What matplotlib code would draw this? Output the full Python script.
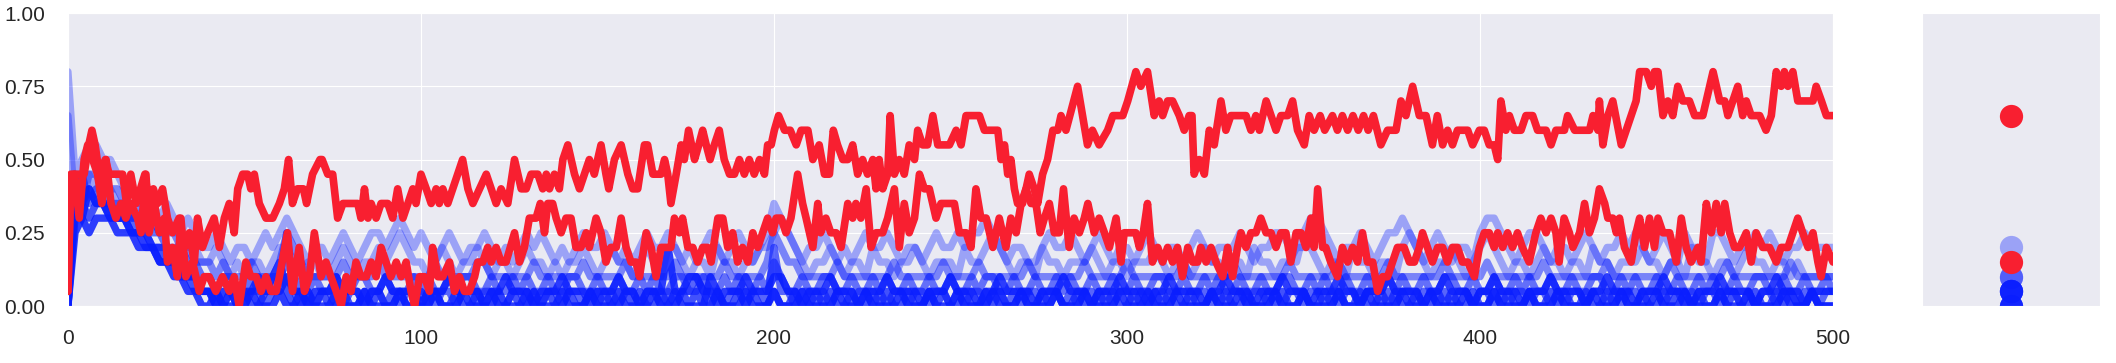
import numpy as np
import matplotlib.pyplot as plt
import seaborn as sns
from matplotlib.ticker import FormatStrFormatter

sns.set_style("darkgrid")
plt.rcParams['font.family'] = ['Liberation Sans', 'DejaVu Sans']

# two highlighted agents: (step, count out of 20)
red_a_t = [0, 0.85, 4.6, 5.9, 6.8, 7.7, 8.9, 10.6, 11.7, 15.5, 16.6, 17.8, 19.3, 21.8, 23, 24.2, 25.4, 26.8, 28.2, 29.6,
           31.5, 33, 34.4, 35.8, 36.7, 38.1, 39.6, 41.4, 42.9, 44.3, 45.7, 47.1, 48.1, 49.5, 50.9, 51.8, 52.8, 54.2, 56.1, 58,
           59.9, 61.3, 62.5, 63.6, 65, 66.7, 67.6, 69.3, 71.4, 72, 73.6, 75, 76.4, 77.9, 82.1, 83, 84, 85, 85.9, 87.3,
           88.7, 90.6, 92, 93.4, 94.9, 96.3, 97.7, 98.6, 100, 101.5, 102.9, 104.3, 105.2, 106.2, 107.6, 109, 110.4, 111.8, 113.3, 114.7,
           116.6, 118.5, 119.9, 121.3, 122.7, 124.6, 126.5, 128.4, 129.8, 131.2, 133.1, 134.5, 135.5, 136.4, 137.8, 139.2, 140.2, 141.6, 143.5, 144.9,
           146.3, 147.7, 149.1, 151, 152.4, 153.2, 154.8, 156.7, 158.6, 160, 161.4, 163.3, 164.2, 165.7, 168, 169, 169.9, 170.8, 172.3, 173.7,
           174.6, 175.8, 177.5, 178.7, 179.8, 180.8, 181.9, 183.1, 184.5, 185.9, 187.4, 188.8, 190.2, 191.6, 193, 194.4, 195.9, 197.3, 198.2, 199.2,
           200.1, 201.3, 203, 204.6, 206.3, 207.7, 209.6, 211, 212.8, 214.3, 215.7, 216.8, 218, 219.5, 220.9, 222.3, 223.7, 225.1, 226.5, 228,
           228.9, 229.8, 230.8, 232.2, 232.9, 234.1, 235.5, 236.9, 238.3, 239.8, 240.7, 242.1, 243.5, 245, 246.4, 249.7, 251.6, 253, 254.4, 258.2,
           259.6, 263.4, 264.3, 265.3, 266.2, 267.1, 268.1, 269, 270.4, 271.4, 272.3, 273.7, 274.7, 276.1, 277.5, 279, 280.4, 281.3, 282.7, 286,
           288.8, 290.2, 292.1, 294.5, 296, 298.8, 300.2, 302.5, 303.9, 305.8, 307.7, 309.1, 310.1, 311.5, 312.9, 314.8, 316.2, 317.6, 318.4, 319,
           320.5, 321.9, 323.3, 324.7, 326.6, 328, 329.4, 333.7, 335.1, 336.5, 337.5, 339.4, 340.8, 342.2, 343.6, 345.5, 346.9, 348.3, 350.2, 351.6,
           353, 354.7, 356, 358.2, 359.6, 361, 362.5, 364, 365.5, 367, 368.3, 369.8, 371.9, 373.8, 376.2, 377.6, 379, 380.9, 382.8, 384.7,
           386.5, 387.9, 389.4, 390.8, 392.2, 393.6, 396.5, 397.9, 399.8, 401.2, 402.6, 404, 405, 405.9, 407.3, 408.3, 409.7, 411.6, 413, 414.9,
           416.3, 418.7, 420.1, 421.5, 423.9, 424.8, 426.8, 431, 432, 433.4, 433.8, 434.8, 436.2, 437.6, 440, 441.4, 442.8, 444.2, 445.2, 447.1,
           448.5, 449.4, 450.4, 451.8, 453.2, 454.6, 456, 457.4, 459.3, 460.8, 463.1, 466, 467.9, 469.3, 470.2, 471.6, 473, 474.4, 475.4, 476.8,
           479.2, 481, 482.5, 483.9, 485.3, 486.2, 487.2, 488.6, 490, 494.3, 495.2, 496.7, 498.1, 500]
red_a_n = [1, 9, 9, 11, 12, 11, 9, 10, 9, 9, 7, 9, 7, 9, 7, 8, 7, 8, 6, 5,
           6, 4, 5, 3, 6, 4, 5, 6, 4, 6, 7, 5, 8, 9, 9, 8, 9, 7, 6, 6,
           7, 8, 10, 7, 8, 8, 7, 9, 10, 10, 9, 9, 6, 7, 7, 6, 8, 6, 7, 6,
           7, 7, 6, 8, 6, 7, 8, 7, 9, 8, 7, 8, 7, 8, 7, 8, 9, 10, 8, 7,
           8, 9, 8, 7, 8, 7, 10, 8, 8, 9, 9, 8, 9, 8, 9, 8, 10, 11, 9, 8,
           9, 10, 9, 11, 9, 8, 10, 11, 9, 8, 8, 11, 11, 9, 9, 10, 9, 7, 9, 11,
           10, 12, 10, 11, 12, 11, 10, 11, 12, 10, 9, 9, 10, 9, 10, 9, 10, 9, 11, 11,
           12, 13, 12, 12, 11, 12, 12, 10, 11, 9, 9, 12, 11, 10, 10, 11, 9, 10, 9, 10,
           8, 10, 8, 9, 13, 9, 10, 9, 11, 10, 12, 11, 11, 13, 11, 11, 12, 11, 13, 13,
           12, 12, 10, 11, 9, 10, 8, 7, 7, 8, 9, 8, 7, 9, 10, 12, 12, 13, 12, 15,
           11, 12, 11, 12, 13, 13, 14, 16, 15, 16, 13, 14, 13, 14, 14, 13, 12, 13, 13, 9,
           10, 9, 12, 11, 14, 12, 13, 13, 12, 13, 12, 14, 13, 12, 13, 13, 14, 12, 11, 13,
           12, 13, 12, 13, 12, 13, 12, 13, 12, 13, 12, 13, 11, 12, 12, 14, 13, 15, 13, 13,
           11, 13, 11, 12, 11, 12, 12, 11, 12, 12, 11, 11, 10, 14, 12, 13, 12, 12, 13, 13,
           12, 12, 11, 12, 12, 13, 12, 12, 13, 12, 14, 11, 13, 14, 11, 12, 13, 14, 16, 16,
           15, 16, 16, 13, 14, 13, 15, 14, 14, 13, 13, 16, 14, 14, 13, 14, 15, 13, 14, 13,
           13, 12, 13, 16, 15, 16, 15, 16, 14, 14, 15, 14, 13, 13]

red_b_t = [0, 0.6, 1.8, 3.2, 4.6, 5.6, 7, 8.4, 9.6, 10.8, 12.2, 13.6, 15, 16.4, 17.8, 19.7, 20.7, 22.1, 23, 24.5,
           25.9, 27.3, 28.2, 29.6, 31, 32, 33.4, 35.3, 37.2, 38.6, 40, 41.9, 43.8, 45.7, 47.1, 48.5, 50.4, 51.8, 53.3, 54.7,
           56.1, 57.5, 59, 59.9, 62.2, 63.6, 65.5, 67, 68.4, 69.8, 71.7, 73.1, 74.5, 76, 77.4, 78.8, 80.2, 81.6, 83, 84.5,
           85.9, 87.3, 88.7, 90.1, 91.5, 93, 94.4, 95.8, 97.2, 98.2, 99.6, 101, 102.4, 103.3, 104.8, 106.2, 108.1, 109.5, 110.9, 112.3,
           113.7, 115.2, 116.1, 117.5, 118.9, 119.9, 121.3, 122.7, 124.1, 126.5, 127.9, 129.3, 130.7, 132.6, 133.8, 135, 135.9, 137.3, 138.3, 139.7,
           141.1, 142.5, 143.9, 145.3, 146.8, 147.7, 149.6, 151, 152.4, 153.8, 155.3, 156.7, 158.1, 159.5, 160.9, 161.9, 163.8, 165.2, 166.6, 168,
           169.4, 170.8, 171.8, 173.2, 174.1, 175.6, 177, 178.4, 179.8, 181.2, 182.2, 184.1, 185.5, 186.9, 188.3, 189.7, 191.1, 192.6, 194, 195.4,
           196.8, 198.2, 199.6, 200.6, 202, 203.4, 204.8, 206.7, 208.1, 209.1, 211, 212.4, 213.2, 214.7, 216.1, 217.6, 219, 220.9, 222.3, 223.2,
           224.6, 226.1, 227.5, 228.9, 230.8, 232.2, 234.1, 235.5, 236.9, 238.3, 239.8, 241.2, 242.6, 244, 245.9, 247.3, 249.2, 251.1, 252.5, 254.4,
           255.8, 257.2, 258.6, 260.1, 262, 263.8, 265.7, 267.1, 268.6, 270, 271.4, 272.8, 274.2, 275.4, 276.6, 278, 279.4, 280.8, 282, 283.6,
           285, 286.5, 287.9, 288.9, 290.7, 292.1, 293.6, 295, 296.9, 298.3, 299.2, 301.1, 302.5, 303.5, 304.6, 305.8, 307.2, 308.7, 310.1, 311.5,
           312.9, 314.3, 315.7, 317.2, 318.6, 320, 320.9, 322.4, 323.8, 325.2, 327.1, 328.5, 329.9, 331.3, 332.3, 333.7, 335.1, 336.5, 337.9, 339.4,
           340.8, 342.2, 343.6, 345, 346.4, 347.9, 349.3, 350.7, 352.1, 353, 354, 355.4, 356.3, 357.7, 359.6, 361, 362.5, 363.9, 365.3, 366.7,
           368.1, 369.6, 371, 372.4, 373.8, 375.2, 376.6, 378.5, 380, 381.4, 382.8, 383.7, 385.1, 386.5, 388, 389.4, 390.8, 392.2, 393.6, 395,
           396.5, 398.4, 399.8, 401.2, 402.6, 404, 405, 406.4, 407.8, 409.2, 410.6, 412, 413.9, 415.8, 417.2, 418.7, 420.1, 421.5, 422.4, 423.8,
           425.3, 426.3, 428.2, 429.6, 431, 432.4, 433.8, 435.3, 436.2, 437.6, 438.6, 439.5, 440.9, 442.8, 444.2, 445.2, 446.6, 448, 449.4, 450.4,
           451.8, 453.7, 455.6, 457, 458.4, 459.8, 461.7, 462.6, 464.1, 465.5, 466.9, 468.3, 469.3, 470.7, 472.1, 473.5, 475.4, 476.8, 478.2, 480.1,
           482, 483.9, 485.3, 487.2, 490, 491.4, 492.9, 494.3, 495.7, 496.6, 498.1, 500]
red_b_n = [1, 7, 9, 6, 10, 11, 10, 9, 7, 10, 7, 6, 7, 6, 7, 6, 5, 9, 5, 7,
           5, 6, 3, 4, 2, 6, 2, 3, 1, 2, 2, 1, 2, 1, 2, 0, 3, 2, 2, 1,
           2, 1, 1, 2, 5, 1, 4, 1, 2, 5, 2, 3, 2, 1, 0, 2, 1, 3, 2, 2,
           3, 2, 4, 3, 2, 3, 2, 3, 1, 0, 2, 2, 1, 4, 2, 2, 3, 1, 2, 1,
           1, 2, 3, 3, 4, 3, 4, 3, 3, 5, 3, 4, 6, 6, 7, 5, 7, 7, 6, 5,
           6, 6, 4, 4, 5, 4, 6, 5, 3, 4, 4, 6, 4, 3, 3, 2, 5, 4, 2, 4,
           4, 4, 6, 5, 6, 4, 4, 3, 4, 4, 3, 6, 6, 4, 5, 3, 4, 3, 5, 4,
           5, 6, 5, 6, 6, 5, 6, 9, 7, 6, 4, 7, 5, 6, 5, 5, 4, 7, 6, 7,
           6, 8, 4, 5, 5, 6, 8, 4, 7, 5, 6, 9, 8, 8, 6, 7, 7, 7, 5, 5,
           4, 8, 6, 6, 4, 6, 4, 6, 5, 7, 8, 7, 7, 5, 6, 7, 5, 5, 8, 4,
           6, 5, 6, 7, 5, 6, 5, 4, 6, 3, 5, 5, 5, 4, 5, 7, 3, 4, 3, 4,
           3, 4, 2, 4, 3, 3, 4, 3, 4, 3, 2, 4, 2, 4, 5, 4, 5, 5, 6, 5,
           5, 4, 5, 5, 3, 5, 5, 4, 6, 4, 8, 4, 4, 3, 2, 4, 3, 4, 3, 5,
           3, 3, 1, 2, 2, 3, 4, 4, 3, 3, 4, 5, 4, 3, 4, 4, 3, 4, 4, 3,
           3, 2, 4, 5, 5, 4, 5, 4, 5, 4, 5, 4, 3, 5, 6, 5, 6, 5, 3, 6,
           5, 4, 5, 7, 5, 6, 8, 7, 6, 6, 5, 6, 4, 3, 5, 6, 4, 6, 4, 6,
           5, 5, 3, 6, 4, 3, 4, 3, 7, 5, 7, 5, 7, 5, 4, 4, 5, 3, 5, 4,
           4, 3, 4, 4, 6, 5, 4, 5, 3, 2, 4, 3]

# the other agents, sampled every 2 steps (count out of 20)
blue_t = np.arange(0, 501, 2)
blue_1 = [16, 9, 10, 11, 11, 10, 10, 9, 8, 8, 7, 8, 7, 6, 7, 6, 5, 6, 5, 4, 4, 5, 4, 3, 4,
          4, 3, 4, 5, 4, 5, 6, 5, 4, 3, 4, 4, 3, 4, 5, 4, 3, 4, 5, 5, 4, 5, 6, 5, 4,
          5, 4, 3, 4, 5, 4, 3, 4, 4, 5, 4, 3, 4, 3, 4, 5, 4, 5, 4, 3, 4, 3, 4, 5, 4,
          4, 5, 4, 3, 4, 3, 4, 5, 4, 4, 5, 4, 3, 4, 3, 4, 5, 4, 3, 4, 5, 4, 3, 4, 5,
          7, 6, 5, 4, 3, 4, 4, 5, 4, 3, 4, 3, 4, 5, 4, 4, 5, 4, 3, 4, 4, 3, 4, 5, 4,
          4, 5, 4, 5, 5, 6, 5, 4, 3, 4, 4, 3, 3, 4, 5, 4, 4, 5, 4, 3, 4, 5, 4, 3, 4,
          4, 3, 4, 5, 4, 3, 4, 4, 3, 4, 5, 4, 3, 4, 4, 4, 5, 4, 3, 4, 4, 5, 5, 4, 3,
          5, 6, 6, 5, 4, 3, 4, 4, 5, 4, 3, 4, 5, 5, 6, 5, 4, 3, 4, 5, 4, 3, 4, 4, 3,
          5, 6, 6, 5, 4, 3, 4, 5, 5, 4, 3, 4, 4, 3, 4, 5, 4, 3, 4, 4, 5, 4, 5, 4, 3,
          4, 5, 4, 3, 5, 4, 4, 3, 5, 5, 4, 3, 4, 4, 5, 4, 5, 4, 3, 4, 4, 5, 4, 4, 4,
          4]
blue_2 = [13, 7, 8, 9, 8, 8, 8, 7, 7, 6, 6, 7, 6, 5, 6, 5, 5, 4, 4, 3, 3, 4, 3, 2, 3,
          2, 3, 3, 2, 3, 4, 4, 3, 2, 3, 3, 2, 2, 3, 4, 3, 2, 3, 3, 4, 3, 4, 5, 4, 3,
          3, 2, 3, 4, 3, 2, 3, 3, 4, 3, 2, 3, 3, 2, 3, 4, 3, 3, 2, 3, 2, 3, 3, 4, 3,
          2, 3, 4, 3, 3, 2, 3, 4, 3, 2, 4, 4, 3, 2, 3, 3, 2, 4, 3, 3, 2, 3, 3, 4, 4,
          5, 6, 5, 4, 3, 2, 3, 3, 4, 3, 2, 3, 3, 2, 4, 3, 3, 2, 3, 3, 4, 3, 2, 3, 3,
          3, 2, 4, 3, 3, 4, 5, 4, 3, 2, 3, 3, 2, 4, 3, 3, 2, 3, 3, 3, 4, 3, 2, 3, 3,
          2, 3, 3, 3, 4, 3, 2, 3, 3, 2, 3, 4, 3, 3, 2, 3, 3, 2, 4, 3, 3, 2, 3, 3, 4,
          4, 4, 3, 2, 3, 3, 2, 4, 3, 3, 2, 3, 3, 2, 4, 5, 4, 3, 2, 3, 3, 4, 3, 2, 3,
          4, 5, 4, 3, 2, 3, 3, 2, 3, 4, 3, 3, 2, 3, 3, 2, 4, 3, 3, 2, 3, 3, 3, 4, 3,
          3, 2, 3, 3, 2, 4, 3, 3, 2, 3, 3, 2, 3, 4, 3, 3, 2, 3, 3, 2, 3, 2, 2, 2, 2,
          2]
blue_3 = [9, 8, 7, 9, 9, 8, 8, 8, 7, 7, 7, 6, 6, 5, 5, 5, 4, 4, 3, 3, 3, 2, 3, 2, 2,
          2, 3, 2, 2, 2, 3, 5, 4, 3, 2, 2, 2, 2, 2, 3, 2, 2, 2, 2, 3, 2, 2, 2, 2, 2,
          2, 2, 3, 2, 2, 2, 2, 2, 3, 3, 2, 2, 2, 2, 2, 2, 3, 2, 2, 2, 2, 2, 2, 3, 2,
          2, 2, 2, 2, 3, 2, 2, 2, 2, 2, 2, 3, 2, 2, 2, 2, 2, 2, 3, 2, 2, 2, 2, 2, 3,
          5, 4, 3, 3, 2, 2, 2, 2, 2, 3, 2, 2, 2, 2, 2, 2, 2, 3, 2, 2, 2, 2, 2, 2, 3,
          2, 2, 2, 2, 3, 2, 2, 2, 2, 2, 2, 3, 2, 2, 2, 2, 2, 2, 2, 3, 2, 2, 2, 2, 2,
          3, 2, 2, 2, 2, 2, 2, 2, 3, 2, 2, 2, 2, 2, 2, 3, 2, 2, 2, 2, 2, 2, 2, 3, 2,
          2, 2, 2, 2, 2, 3, 2, 2, 2, 2, 2, 2, 3, 2, 2, 2, 2, 2, 2, 2, 3, 2, 2, 2, 2,
          2, 3, 2, 2, 2, 2, 2, 2, 2, 3, 2, 2, 2, 2, 2, 2, 2, 2, 3, 2, 2, 2, 2, 2, 2,
          2, 2, 3, 2, 2, 2, 2, 2, 2, 2, 3, 2, 2, 2, 2, 2, 2, 2, 2, 3, 2, 2, 2, 2, 2,
          2]
blue_4 = [0, 8, 9, 7, 8, 8, 7, 7, 7, 6, 6, 6, 5, 5, 4, 4, 4, 3, 3, 2, 2, 1, 2, 2, 1,
          1, 2, 1, 1, 2, 2, 3, 2, 1, 1, 2, 1, 1, 2, 1, 1, 2, 2, 1, 1, 2, 1, 1, 1, 2,
          1, 2, 1, 1, 2, 1, 2, 2, 1, 1, 2, 1, 1, 2, 1, 2, 1, 1, 2, 1, 1, 2, 2, 1, 1,
          2, 1, 1, 2, 1, 1, 2, 1, 2, 1, 1, 2, 2, 1, 1, 2, 1, 1, 2, 1, 2, 1, 1, 2, 1,
          3, 2, 1, 1, 2, 1, 1, 2, 2, 1, 1, 2, 1, 1, 2, 1, 2, 1, 1, 2, 1, 1, 2, 1, 1,
          2, 1, 1, 2, 1, 2, 2, 1, 1, 2, 1, 1, 2, 1, 1, 2, 1, 2, 1, 1, 2, 1, 1, 2, 1,
          1, 2, 1, 1, 2, 2, 1, 1, 2, 1, 1, 2, 1, 2, 1, 1, 2, 1, 1, 2, 1, 1, 2, 2, 1,
          1, 2, 1, 2, 1, 1, 2, 1, 1, 2, 1, 1, 2, 1, 2, 1, 1, 2, 1, 1, 2, 2, 1, 1, 2,
          1, 1, 2, 1, 1, 2, 1, 2, 1, 1, 2, 1, 1, 2, 1, 1, 2, 2, 1, 1, 2, 1, 2, 1, 1,
          2, 1, 1, 2, 1, 1, 2, 1, 2, 1, 1, 2, 1, 1, 2, 2, 1, 1, 2, 1, 1, 2, 1, 1, 2,
          1]
blue_5 = [0, 9, 7, 8, 7, 7, 7, 6, 6, 6, 5, 5, 4, 4, 4, 3, 3, 2, 2, 1, 1, 1, 0, 1, 1,
          0, 1, 1, 0, 1, 2, 5, 1, 0, 1, 0, 1, 1, 0, 0, 1, 1, 0, 1, 1, 0, 1, 0, 1, 1,
          0, 1, 0, 1, 1, 0, 1, 1, 0, 1, 1, 0, 0, 1, 1, 0, 1, 0, 1, 1, 0, 1, 1, 0, 1,
          1, 0, 1, 0, 1, 1, 0, 1, 1, 0, 1, 0, 1, 1, 2, 1, 0, 1, 0, 1, 1, 0, 1, 1, 0,
          4, 1, 1, 0, 1, 1, 0, 1, 0, 1, 1, 0, 1, 1, 0, 1, 0, 1, 1, 0, 1, 1, 0, 1, 1,
          0, 1, 0, 1, 1, 0, 1, 1, 0, 1, 0, 1, 1, 0, 1, 1, 0, 1, 0, 1, 1, 0, 1, 0, 1,
          1, 0, 1, 1, 0, 1, 0, 1, 1, 0, 1, 1, 0, 1, 0, 1, 1, 0, 1, 1, 0, 1, 0, 1, 1,
          0, 1, 1, 0, 1, 0, 1, 1, 0, 1, 1, 0, 1, 0, 1, 1, 0, 1, 1, 0, 1, 0, 1, 1, 0,
          1, 1, 0, 1, 0, 1, 1, 0, 1, 1, 0, 1, 0, 1, 1, 0, 1, 1, 0, 1, 0, 1, 1, 0, 1,
          1, 0, 1, 1, 0, 1, 0, 1, 1, 0, 1, 1, 0, 1, 0, 1, 1, 0, 1, 1, 0, 1, 1, 0, 1,
          1]
blue_6 = [0, 6, 7, 6, 7, 7, 6, 6, 6, 5, 5, 5, 4, 4, 3, 3, 2, 2, 1, 1, 1, 0, 0, 1, 0,
          1, 0, 0, 1, 2, 3, 1, 0, 0, 1, 0, 1, 0, 0, 1, 0, 0, 1, 0, 1, 0, 0, 1, 0, 0,
          1, 0, 1, 0, 0, 1, 0, 0, 1, 0, 1, 0, 0, 1, 0, 0, 1, 0, 1, 0, 0, 1, 0, 0, 1,
          0, 1, 0, 0, 1, 0, 1, 0, 0, 1, 0, 0, 1, 0, 1, 0, 0, 1, 0, 0, 1, 0, 1, 0, 0,
          1, 0, 0, 1, 0, 0, 1, 0, 1, 0, 0, 1, 0, 0, 1, 0, 1, 0, 0, 1, 0, 0, 1, 0, 1,
          0, 0, 1, 0, 0, 1, 0, 1, 0, 0, 1, 0, 0, 1, 0, 1, 0, 0, 1, 0, 0, 1, 0, 1, 0,
          0, 1, 0, 0, 1, 0, 1, 0, 0, 1, 0, 0, 1, 0, 1, 0, 0, 1, 0, 0, 1, 0, 1, 0, 0,
          1, 0, 0, 1, 0, 1, 0, 0, 1, 0, 0, 1, 0, 1, 0, 0, 1, 0, 0, 1, 0, 1, 0, 0, 1,
          0, 0, 1, 0, 1, 0, 0, 1, 0, 0, 1, 0, 1, 0, 0, 1, 0, 0, 1, 0, 1, 0, 0, 1, 0,
          0, 1, 0, 1, 0, 0, 1, 0, 0, 1, 0, 1, 0, 0, 1, 0, 0, 1, 0, 1, 0, 0, 1, 0, 0,
          0]
blue_7 = [0, 7, 6, 5, 6, 6, 6, 5, 5, 5, 4, 4, 4, 3, 3, 2, 2, 1, 1, 0, 0, 1, 0, 0, 0,
          0, 1, 0, 0, 0, 1, 0, 0, 1, 0, 0, 0, 0, 1, 0, 0, 0, 1, 0, 0, 0, 0, 1, 0, 0,
          0, 0, 1, 0, 0, 0, 1, 0, 0, 0, 0, 1, 0, 0, 0, 1, 0, 0, 0, 0, 1, 0, 0, 0, 1,
          0, 0, 0, 1, 0, 0, 0, 0, 1, 0, 0, 1, 0, 0, 0, 0, 2, 1, 0, 0, 0, 1, 0, 0, 0,
          1, 0, 0, 0, 1, 0, 0, 0, 0, 1, 0, 0, 0, 1, 0, 0, 0, 0, 1, 0, 0, 0, 1, 0, 0,
          0, 1, 0, 0, 0, 0, 1, 0, 0, 0, 1, 0, 0, 0, 0, 1, 0, 0, 0, 1, 0, 0, 0, 0, 1,
          0, 0, 0, 1, 0, 0, 0, 1, 0, 0, 0, 0, 1, 0, 0, 0, 1, 0, 0, 0, 0, 1, 0, 0, 0,
          1, 0, 0, 0, 0, 1, 0, 0, 0, 1, 0, 0, 0, 0, 1, 0, 0, 0, 1, 0, 0, 0, 0, 1, 0,
          0, 0, 1, 0, 0, 0, 0, 1, 0, 0, 0, 1, 0, 0, 0, 0, 1, 0, 0, 0, 1, 0, 0, 0, 0,
          1, 0, 0, 0, 1, 0, 0, 0, 0, 1, 0, 0, 0, 1, 0, 0, 0, 0, 1, 0, 0, 0, 1, 0, 0,
          0]
blue_8 = [0, 5, 6, 8, 7, 7, 6, 6, 6, 5, 5, 4, 4, 3, 3, 3, 2, 2, 2, 1, 1, 0, 1, 1, 0,
          1, 1, 2, 1, 1, 1, 2, 1, 1, 0, 1, 1, 1, 2, 1, 1, 1, 0, 1, 1, 2, 1, 1, 1, 1,
          0, 1, 1, 1, 2, 1, 1, 1, 1, 0, 1, 1, 2, 1, 1, 1, 0, 1, 1, 1, 2, 1, 1, 1, 0,
          1, 1, 1, 2, 1, 1, 0, 1, 1, 1, 4, 1, 1, 2, 2, 1, 1, 0, 1, 1, 1, 2, 1, 1, 1,
          2, 2, 1, 1, 0, 1, 1, 1, 2, 1, 1, 1, 0, 1, 1, 1, 2, 1, 1, 1, 1, 0, 1, 1, 1,
          2, 1, 1, 1, 0, 1, 1, 2, 1, 1, 1, 1, 0, 1, 1, 1, 2, 1, 1, 1, 0, 1, 1, 1, 2,
          1, 1, 1, 0, 1, 1, 2, 1, 1, 1, 1, 0, 1, 1, 2, 1, 1, 1, 0, 1, 1, 1, 2, 1, 1,
          1, 0, 1, 1, 1, 2, 1, 1, 0, 1, 1, 1, 2, 1, 1, 1, 1, 0, 1, 1, 2, 1, 1, 1, 0,
          1, 1, 2, 1, 1, 1, 0, 1, 1, 1, 2, 1, 1, 1, 1, 0, 1, 1, 2, 1, 1, 1, 0, 1, 1,
          1, 2, 1, 1, 1, 0, 1, 1, 1, 2, 1, 1, 1, 1, 0, 1, 1, 2, 1, 1, 1, 0, 1, 1, 1,
          1]
blue_runs = [blue_1, blue_2, blue_3, blue_4, blue_5, blue_6, blue_7, blue_8]
blue_alpha = [0.35, 0.35, 0.5, 0.6, 0.65, 0.75, 0.85, 0.85]

RED = '#f81f30'
BLUE = '#0a1eff'

fig = plt.figure(figsize=(21.16, 3.63), dpi=100)
ax = fig.add_axes([0.0321, 0.157, 0.8342, 0.807])
side = fig.add_axes([0.9083, 0.157, 0.0841, 0.807])

for run, a in zip(blue_runs, blue_alpha):
    ax.plot(blue_t, np.array(run) / 20, color=BLUE, alpha=a, lw=5.3)
    side.scatter([0], [run[-1] / 20], s=280, color=BLUE, alpha=a, lw=0)

for t, n in [(red_a_t, red_a_n), (red_b_t, red_b_n)]:
    ax.plot(t, np.array(n) / 20, color=RED, lw=5.5, zorder=5)
    side.scatter([0], [n[-1] / 20], s=280, color=RED, lw=0, zorder=5)

ax.set_xlim(0, 500)
ax.set_ylim(0, 1)
ax.set_xticks([0, 100, 200, 300, 400, 500])
ax.set_yticks([0, 0.25, 0.5, 0.75, 1.0])
ax.yaxis.set_major_formatter(FormatStrFormatter('%.2f'))
ax.tick_params(labelsize=15, pad=13)

side.set_xlim(-1, 1)
side.set_ylim(0, 1)
side.set_xticks([])
side.set_yticks([])

plt.savefig('out.png', dpi=100)
